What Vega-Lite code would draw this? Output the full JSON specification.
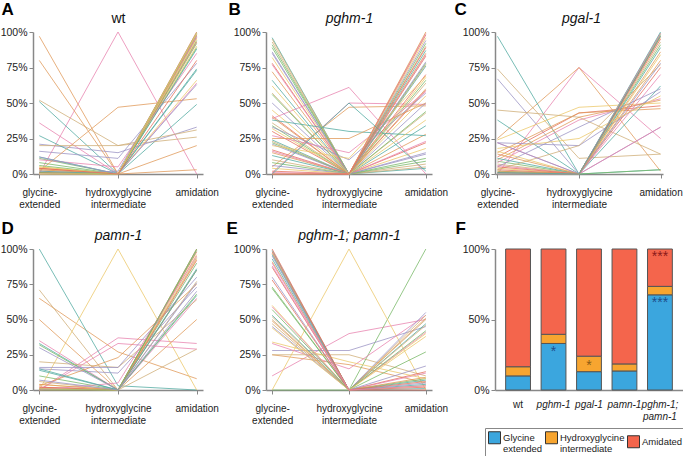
{
"$schema": "https://vega.github.io/schema/vega-lite/v6.json",
"padding": {"left": 0, "top": 0, "right": 0, "bottom": 0},
"background": "white",
"config": {
  "font": "Liberation Sans",
  "view": {"stroke": null},
  "axis": {"labelFontSize": 10.5, "labelColor": "#222", "domainColor": "#888", "domainWidth": 1.5, "tickColor": "#888", "tickSize": 4, "tickWidth": 1, "grid": false, "labelFont": "Liberation Sans", "labelPadding": 2},
  "axisX": {"labelFontSize": 10},
  "line": {"strokeWidth": 1, "opacity": 0.78}
},
"datasets": {
  "lines": [
    {"p":"A","id":"A01","g":0,"h":100,"a":0},{"p":"A","id":"A02","g":97,"h":0,"a":3},{"p":"A","id":"A03","g":51,"h":0,"a":49},{"p":"A","id":"A04","g":52,"h":20,"a":26},
    {"p":"A","id":"A05","g":11,"h":0,"a":89},{"p":"A","id":"A06","g":21,"h":15,"a":33},{"p":"A","id":"A07","g":4,"h":0,"a":90},{"p":"A","id":"A08","g":4,"h":0,"a":96},
    {"p":"A","id":"A09","g":36,"h":0,"a":64},{"p":"A","id":"A10","g":80,"h":0,"a":20},{"p":"A","id":"A11","g":27,"h":0,"a":73},{"p":"A","id":"A12","g":20,"h":20,"a":31},
    {"p":"A","id":"A13","g":8,"h":0,"a":92},{"p":"A","id":"A14","g":16,"h":11,"a":78},{"p":"A","id":"A15","g":5,"h":0,"a":66},{"p":"A","id":"A16","g":1,"h":0,"a":93},
    {"p":"A","id":"A17","g":10,"h":5,"a":85},{"p":"A","id":"A18","g":2,"h":47,"a":53},{"p":"A","id":"A19","g":12,"h":0,"a":88},{"p":"A","id":"A20","g":3,"h":0,"a":97},
    {"p":"A","id":"A21","g":6,"h":0,"a":94},{"p":"A","id":"A22","g":0,"h":2,"a":97},{"p":"A","id":"A23","g":5,"h":0,"a":95},{"p":"A","id":"A24","g":1,"h":0,"a":100},
    {"p":"A","id":"A25","g":2,"h":0,"a":98},{"p":"A","id":"A26","g":3,"h":0,"a":98},{"p":"A","id":"A27","g":2,"h":0,"a":74},{"p":"A","id":"A28","g":0,"h":0,"a":100},
    {"p":"A","id":"A29","g":1,"h":0,"a":99},{"p":"A","id":"A30","g":12,"h":0,"a":63},{"p":"A","id":"A31","g":0,"h":0,"a":99},{"p":"A","id":"A32","g":4,"h":0,"a":80},
    {"p":"B","id":"B01","g":1,"h":50,"a":49},{"p":"B","id":"B02","g":5,"h":47,"a":48},{"p":"B","id":"B03","g":96,"h":0,"a":4},{"p":"B","id":"B04","g":95,"h":0,"a":5},
    {"p":"B","id":"B05","g":89,"h":0,"a":11},{"p":"B","id":"B06","g":86,"h":0,"a":14},{"p":"B","id":"B07","g":82,"h":0,"a":18},{"p":"B","id":"B08","g":78,"h":0,"a":22},
    {"p":"B","id":"B09","g":77,"h":0,"a":23},{"p":"B","id":"B10","g":72,"h":0,"a":28},{"p":"B","id":"B11","g":66,"h":0,"a":34},{"p":"B","id":"B12","g":57,"h":0,"a":43},
    {"p":"B","id":"B13","g":56,"h":0,"a":44},{"p":"B","id":"B14","g":50,"h":0,"a":50},{"p":"B","id":"B15","g":45,"h":0,"a":55},{"p":"B","id":"B16","g":41,"h":0,"a":59},
    {"p":"B","id":"B17","g":39,"h":61,"a":0},{"p":"B","id":"B18","g":40,"h":0,"a":60},{"p":"B","id":"B19","g":38,"h":30,"a":27},{"p":"B","id":"B20","g":36,"h":0,"a":64},
    {"p":"B","id":"B21","g":34,"h":0,"a":66},{"p":"B","id":"B22","g":33,"h":10,"a":57},{"p":"B","id":"B23","g":32,"h":0,"a":68},{"p":"B","id":"B24","g":30,"h":0,"a":70},
    {"p":"B","id":"B25","g":27,"h":15,"a":58},{"p":"B","id":"B26","g":25,"h":25,"a":50},{"p":"B","id":"B27","g":24,"h":0,"a":76},{"p":"B","id":"B28","g":23,"h":0,"a":77},
    {"p":"B","id":"B29","g":22,"h":0,"a":78},{"p":"B","id":"B30","g":21,"h":0,"a":79},{"p":"B","id":"B31","g":20,"h":11,"a":69},{"p":"B","id":"B32","g":17,"h":0,"a":83},
    {"p":"B","id":"B33","g":16,"h":0,"a":84},{"p":"B","id":"B34","g":15,"h":0,"a":85},{"p":"B","id":"B35","g":13,"h":0,"a":87},{"p":"B","id":"B36","g":10,"h":0,"a":90},
    {"p":"B","id":"B37","g":8,"h":0,"a":92},{"p":"B","id":"B38","g":6,"h":0,"a":94},{"p":"B","id":"B39","g":4,"h":0,"a":96},{"p":"B","id":"B40","g":2,"h":0,"a":98},
    {"p":"B","id":"B41","g":1,"h":0,"a":99},{"p":"B","id":"B42","g":0,"h":0,"a":100},{"p":"B","id":"B43","g":0,"h":50,"a":2},{"p":"B","id":"B44","g":93,"h":0,"a":7},
    {"p":"B","id":"B45","g":91,"h":0,"a":9},{"p":"B","id":"B46","g":85,"h":0,"a":15},{"p":"B","id":"B47","g":62,"h":0,"a":38},{"p":"B","id":"B48","g":0,"h":0,"a":89},
    {"p":"C","id":"C01","g":0,"h":75,"a":25},{"p":"C","id":"C02","g":25,"h":75,"a":2},{"p":"C","id":"C03","g":97,"h":0,"a":3},{"p":"C","id":"C04","g":74,"h":11,"a":14},
    {"p":"C","id":"C05","g":9,"h":0,"a":91},{"p":"C","id":"C06","g":67,"h":0,"a":33},{"p":"C","id":"C07","g":24,"h":47,"a":50},{"p":"C","id":"C08","g":12,"h":43,"a":48},
    {"p":"C","id":"C09","g":8,"h":38,"a":53},{"p":"C","id":"C10","g":15,"h":43,"a":46},{"p":"C","id":"C11","g":38,"h":0,"a":62},{"p":"C","id":"C12","g":45,"h":40,"a":14},
    {"p":"C","id":"C13","g":2,"h":0,"a":98},{"p":"C","id":"C14","g":22,"h":20,"a":58},{"p":"C","id":"C15","g":4,"h":0,"a":96},{"p":"C","id":"C16","g":3,"h":0,"a":97},
    {"p":"C","id":"C17","g":6,"h":0,"a":70},{"p":"C","id":"C18","g":10,"h":40,"a":52},{"p":"C","id":"C19","g":11,"h":0,"a":89},{"p":"C","id":"C20","g":7,"h":0,"a":93},
    {"p":"C","id":"C21","g":1,"h":0,"a":99},{"p":"C","id":"C22","g":5,"h":33,"a":60},{"p":"C","id":"C23","g":16,"h":0,"a":84},{"p":"C","id":"C24","g":1,"h":0,"a":75},
    {"p":"C","id":"C25","g":22,"h":0,"a":33},{"p":"C","id":"C26","g":2,"h":0,"a":80},{"p":"C","id":"C27","g":0,"h":0,"a":100},{"p":"C","id":"C28","g":3,"h":20,"a":77},
    {"p":"C","id":"C29","g":0,"h":0,"a":3},{"p":"C","id":"C30","g":22,"h":0,"a":78},{"p":"C","id":"C31","g":18,"h":25,"a":55},{"p":"C","id":"C32","g":5,"h":0,"a":95},
    {"p":"C","id":"C33","g":0,"h":0,"a":99},{"p":"C","id":"C34","g":14,"h":0,"a":86},{"p":"C","id":"C35","g":1,"h":0,"a":97},
    {"p":"D","id":"D01","g":0,"h":37,"a":33},{"p":"D","id":"D02","g":65,"h":27,"a":8},{"p":"D","id":"D03","g":100,"h":3,"a":0},{"p":"D","id":"D04","g":71,"h":0,"a":29},
    {"p":"D","id":"D05","g":10,"h":0,"a":90},{"p":"D","id":"D06","g":15,"h":12,"a":73},{"p":"D","id":"D07","g":0,"h":100,"a":0},{"p":"D","id":"D08","g":2,"h":0,"a":98},
    {"p":"D","id":"D09","g":35,"h":0,"a":65},{"p":"D","id":"D10","g":50,"h":0,"a":50},{"p":"D","id":"D11","g":33,"h":0,"a":67},{"p":"D","id":"D12","g":20,"h":16,"a":64},
    {"p":"D","id":"D13","g":32,"h":0,"a":68},{"p":"D","id":"D14","g":30,"h":0,"a":70},{"p":"D","id":"D15","g":4,"h":0,"a":96},{"p":"D","id":"D16","g":0,"h":0,"a":100},
    {"p":"D","id":"D17","g":0,"h":33,"a":29},{"p":"D","id":"D18","g":3,"h":23,"a":75},{"p":"D","id":"D19","g":14,"h":0,"a":86},{"p":"D","id":"D20","g":6,"h":0,"a":94},
    {"p":"D","id":"D21","g":1,"h":0,"a":99},{"p":"D","id":"D22","g":16,"h":16,"a":80},{"p":"D","id":"D23","g":1,"h":0,"a":93},{"p":"D","id":"D24","g":2,"h":0,"a":92},
    {"p":"D","id":"D25","g":0,"h":5,"a":95},{"p":"D","id":"D26","g":4,"h":0,"a":85},{"p":"D","id":"D27","g":15,"h":0,"a":85},{"p":"D","id":"D28","g":1,"h":0,"a":77},
    {"p":"D","id":"D29","g":0,"h":0,"a":100},{"p":"D","id":"D30","g":7,"h":0,"a":76},
    {"p":"E","id":"E01","g":10,"h":40,"a":50},{"p":"E","id":"E02","g":25,"h":18,"a":5},{"p":"E","id":"E03","g":99,"h":0,"a":1},{"p":"E","id":"E04","g":25,"h":25,"a":10},
    {"p":"E","id":"E05","g":0,"h":0,"a":100},{"p":"E","id":"E06","g":28,"h":28,"a":45},{"p":"E","id":"E07","g":0,"h":100,"a":0},{"p":"E","id":"E08","g":98,"h":0,"a":2},
    {"p":"E","id":"E09","g":33,"h":15,"a":53},{"p":"E","id":"E10","g":97,"h":0,"a":3},{"p":"E","id":"E11","g":96,"h":0,"a":4},{"p":"E","id":"E12","g":50,"h":0,"a":50},
    {"p":"E","id":"E13","g":73,"h":0,"a":27},{"p":"E","id":"E14","g":95,"h":0,"a":5},{"p":"E","id":"E15","g":60,"h":0,"a":40},{"p":"E","id":"E16","g":87,"h":0,"a":13},
    {"p":"E","id":"E17","g":88,"h":0,"a":12},{"p":"E","id":"E18","g":49,"h":0,"a":51},{"p":"E","id":"E19","g":93,"h":0,"a":7},{"p":"E","id":"E20","g":47,"h":0,"a":53},
    {"p":"E","id":"E21","g":72,"h":0,"a":8},{"p":"E","id":"E22","g":45,"h":0,"a":55},{"p":"E","id":"E23","g":34,"h":20,"a":8},{"p":"E","id":"E24","g":100,"h":0,"a":0},
    {"p":"E","id":"E25","g":59,"h":0,"a":41},{"p":"E","id":"E26","g":91,"h":0,"a":9},{"p":"E","id":"E27","g":53,"h":0,"a":47},{"p":"E","id":"E28","g":52,"h":0,"a":46},
    {"p":"E","id":"E29","g":57,"h":0,"a":42},{"p":"E","id":"E30","g":80,"h":0,"a":17},{"p":"E","id":"E31","g":44,"h":0,"a":38},{"p":"E","id":"E32","g":78,"h":0,"a":6},
    {"p":"E","id":"E33","g":90,"h":0,"a":3}
  ],
  "bars": [
    {"geno":"wt","cat":"Glycine extended","k":1,"val":10},{"geno":"wt","cat":"Hydroxyglycine intermediate","k":2,"val":6.5},{"geno":"wt","cat":"Amidated","k":3,"val":83.5},
    {"geno":"pghm-1","cat":"Glycine extended","k":1,"val":33},{"geno":"pghm-1","cat":"Hydroxyglycine intermediate","k":2,"val":6.5},{"geno":"pghm-1","cat":"Amidated","k":3,"val":60.5},
    {"geno":"pgal-1","cat":"Glycine extended","k":1,"val":13},{"geno":"pgal-1","cat":"Hydroxyglycine intermediate","k":2,"val":11},{"geno":"pgal-1","cat":"Amidated","k":3,"val":76},
    {"geno":"pamn-1","cat":"Glycine extended","k":1,"val":13.5},{"geno":"pamn-1","cat":"Hydroxyglycine intermediate","k":2,"val":5},{"geno":"pamn-1","cat":"Amidated","k":3,"val":81.5},
    {"geno":"pghm-1; pamn-1","cat":"Glycine extended","k":1,"val":67.5},{"geno":"pghm-1; pamn-1","cat":"Hydroxyglycine intermediate","k":2,"val":6},{"geno":"pghm-1; pamn-1","cat":"Amidated","k":3,"val":26.5}
  ],
  "stars": [
    {"geno":"pghm-1","cat":"Glycine extended","pos":27,"s":"*"},
    {"geno":"pgal-1","cat":"Hydroxyglycine intermediate","pos":17,"s":"*"},
    {"geno":"pghm-1; pamn-1","cat":"Glycine extended","pos":62,"s":"***"},
    {"geno":"pghm-1; pamn-1","cat":"Amidated","pos":94,"s":"***"}
  ]
},
"bounds": "flush",
"align": "each",
"columns": 3,
"spacing": {"row": 75, "column": 63},
"resolve": {"scale": {"color": "independent"}},
"concat": [
  {"width":170,"height":142,"data":{"name":"lines"},
   "transform":[{"filter":"datum.p==='A'"},{"fold":["g","h","a"],"as":["stage","pct"]}],
   "mark":{"type":"line"},
   "encoding":{
    "x":{"field":"stage","type":"nominal","scale":{"type":"point","domain":["g","h","a"],"padding":0.08},"axis":{"title":"wt","titleX":85,"titleY":-152,"titleFontSize":14,"titleFontWeight":"normal","titleBaseline":"alphabetic","titleAlign":"center","titleColor":"#111","labelAngle":0,"labelPadding":9,"labelLineHeight":12,"labelExpr":"datum.value==='g' ? ['glycine-','extended'] : datum.value==='h' ? ['hydroxyglycine','intermediate'] : 'amidation'"}},
    "y":{"field":"pct","type":"quantitative","scale":{"domain":[0,100]},"axis":{"values":[0,25,50,75,100],"labelExpr":"datum.value+'%'","title":"A","titleAngle":0,"titleAlign":"left","titleBaseline":"top","titleX":-32,"titleY":-31,"titleFontSize":17,"titleFontWeight":"bold","titleColor":"#000"}},
    "color":{"field":"id","type":"nominal","scale":{"range":["#e884b0","#e09a5a","#52aaa2","#cfae78","#78b868","#9b94c4","#ecc86a","#e4705c"]},"legend":null},
    "order":{"value":null}
   }},
  {"width":166,"height":142,"data":{"name":"lines"},
   "transform":[{"filter":"datum.p==='B'"},{"fold":["g","h","a"],"as":["stage","pct"]}],
   "mark":{"type":"line"},
   "encoding":{
    "x":{"field":"stage","type":"nominal","scale":{"type":"point","domain":["g","h","a"],"padding":0.08},"axis":{"title":"pghm-1","titleFontStyle":"italic","titleX":83,"titleY":-152,"titleFontSize":14,"titleFontWeight":"normal","titleBaseline":"alphabetic","titleAlign":"center","titleColor":"#111","labelAngle":0,"labelPadding":9,"labelLineHeight":12,"labelExpr":"datum.value==='g' ? ['glycine-','extended'] : datum.value==='h' ? ['hydroxyglycine','intermediate'] : 'amidation'"}},
    "y":{"field":"pct","type":"quantitative","scale":{"domain":[0,100]},"axis":{"values":[0,25,50,75,100],"labelExpr":"datum.value+'%'","title":"B","titleAngle":0,"titleAlign":"left","titleBaseline":"top","titleX":-38,"titleY":-31,"titleFontSize":17,"titleFontWeight":"bold","titleColor":"#000"}},
    "color":{"field":"id","type":"nominal","scale":{"range":["#e884b0","#e09a5a","#52aaa2","#cfae78","#78b868","#9b94c4","#ecc86a","#e4705c"]},"legend":null},
    "order":{"value":null}
   }},
  {"width":168,"height":142,"data":{"name":"lines"},
   "transform":[{"filter":"datum.p==='C'"},{"fold":["g","h","a"],"as":["stage","pct"]}],
   "mark":{"type":"line"},
   "encoding":{
    "x":{"field":"stage","type":"nominal","scale":{"type":"point","domain":["g","h","a"],"padding":0.03},"axis":{"title":"pgal-1","titleFontStyle":"italic","titleX":86,"titleY":-152,"titleFontSize":14,"titleFontWeight":"normal","titleBaseline":"alphabetic","titleAlign":"center","titleColor":"#111","labelAngle":0,"labelPadding":9,"labelLineHeight":12,"labelExpr":"datum.value==='g' ? ['glycine-','extended'] : datum.value==='h' ? ['hydroxyglycine','intermediate'] : 'amidation'"}},
    "y":{"field":"pct","type":"quantitative","scale":{"domain":[0,100]},"axis":{"values":[0,25,50,75,100],"labelExpr":"datum.value+'%'","title":"C","titleAngle":0,"titleAlign":"left","titleBaseline":"top","titleX":-41,"titleY":-31,"titleFontSize":17,"titleFontWeight":"bold","titleColor":"#000"}},
    "color":{"field":"id","type":"nominal","scale":{"range":["#e884b0","#e09a5a","#52aaa2","#cfae78","#78b868","#9b94c4","#ecc86a","#e4705c"]},"legend":null},
    "order":{"value":null}
   }},
  {"width":170,"height":141,"data":{"name":"lines"},
   "transform":[{"filter":"datum.p==='D'"},{"fold":["g","h","a"],"as":["stage","pct"]}],
   "mark":{"type":"line"},
   "encoding":{
    "x":{"field":"stage","type":"nominal","scale":{"type":"point","domain":["g","h","a"],"padding":0.08},"axis":{"title":"pamn-1","titleFontStyle":"italic","titleX":85,"titleY":-151,"titleFontSize":14,"titleFontWeight":"normal","titleBaseline":"alphabetic","titleAlign":"center","titleColor":"#111","labelAngle":0,"labelPadding":9,"labelLineHeight":12,"labelExpr":"datum.value==='g' ? ['glycine-','extended'] : datum.value==='h' ? ['hydroxyglycine','intermediate'] : 'amidation'"}},
    "y":{"field":"pct","type":"quantitative","scale":{"domain":[0,100]},"axis":{"values":[0,25,50,75,100],"labelExpr":"datum.value+'%'","title":"D","titleAngle":0,"titleAlign":"left","titleBaseline":"top","titleX":-32,"titleY":-29,"titleFontSize":17,"titleFontWeight":"bold","titleColor":"#000"}},
    "color":{"field":"id","type":"nominal","scale":{"range":["#e884b0","#e09a5a","#52aaa2","#cfae78","#78b868","#9b94c4","#ecc86a","#e4705c"]},"legend":null},
    "order":{"value":null}
   }},
  {"width":166,"height":141,"data":{"name":"lines"},
   "transform":[{"filter":"datum.p==='E'"},{"fold":["g","h","a"],"as":["stage","pct"]}],
   "mark":{"type":"line"},
   "encoding":{
    "x":{"field":"stage","type":"nominal","scale":{"type":"point","domain":["g","h","a"],"padding":0.08},"axis":{"title":"pghm-1; pamn-1","titleFontStyle":"italic","titleX":83,"titleY":-151,"titleFontSize":14,"titleFontWeight":"normal","titleBaseline":"alphabetic","titleAlign":"center","titleColor":"#111","labelAngle":0,"labelPadding":9,"labelLineHeight":12,"labelExpr":"datum.value==='g' ? ['glycine-','extended'] : datum.value==='h' ? ['hydroxyglycine','intermediate'] : 'amidation'"}},
    "y":{"field":"pct","type":"quantitative","scale":{"domain":[0,100]},"axis":{"values":[0,25,50,75,100],"labelExpr":"datum.value+'%'","title":"E","titleAngle":0,"titleAlign":"left","titleBaseline":"top","titleX":-40,"titleY":-29,"titleFontSize":17,"titleFontWeight":"bold","titleColor":"#000"}},
    "color":{"field":"id","type":"nominal","scale":{"range":["#e884b0","#e09a5a","#52aaa2","#cfae78","#78b868","#9b94c4","#ecc86a","#e4705c"]},"legend":null},
    "order":{"value":null}
   }},
  {"width":188,"height":141,
   "layer":[
    {"data":{"name":"bars"},"mark":{"type":"bar","stroke":"#555","strokeWidth":1},
     "encoding":{
      "x":{"field":"geno","type":"nominal","sort":["wt","pghm-1","pgal-1","pamn-1","pghm-1; pamn-1"],"scale":{"paddingInner":0.3,"paddingOuter":0.3},"axis":{"title":null,"labelAngle":0,"ticks":false,"labelPadding":9,"labelLineHeight":12,"labelFontSize":10,"labelFontStyle":{"condition":{"test":"datum.value==='wt'","value":"normal"},"value":"italic"},"labelExpr":"datum.value==='pghm-1; pamn-1' ? ['pghm-1;','pamn-1'] : datum.value"}},
      "y":{"field":"val","type":"quantitative","stack":"zero","scale":{"domain":[0,100]},"axis":{"values":[0,25,50,75,100],"labelExpr":"datum.value+'%'","title":"F","titleAngle":0,"titleAlign":"left","titleBaseline":"top","titleX":-40,"titleY":-29,"titleFontSize":17,"titleFontWeight":"bold","titleColor":"#000"}},
      "order":{"field":"k","type":"quantitative"},
      "color":{"field":"cat","type":"nominal","sort":["Glycine extended","Hydroxyglycine intermediate","Amidated"],"scale":{"domain":["Glycine extended","Hydroxyglycine intermediate","Amidated"],"range":["#3ba6de","#f7a530","#f4654c"]},
        "legend":{"title":null,"orient":"none","legendX":-10,"legendY":179,"direction":"horizontal","strokeColor":"#888","padding":3,"symbolType":"square","symbolSize":144,"symbolStrokeColor":"#333","symbolStrokeWidth":1,"symbolOpacity":1,"labelFontSize":9.5,"labelOffset":2,"labelColor":"#222","columnPadding":0,"labelLimit":0,"labelExpr":"datum.label==='Glycine extended' ? ['Glycine','extended'] : datum.label==='Hydroxyglycine intermediate' ? ['Hydroxyglycine','intermediate'] : datum.label"}}
     }},
    {"data":{"name":"stars"},"mark":{"type":"text","fontSize":14,"baseline":"middle"},
     "encoding":{
      "x":{"field":"geno","type":"nominal","sort":["wt","pghm-1","pgal-1","pamn-1","pghm-1; pamn-1"]},
      "y":{"field":"pos","type":"quantitative"},
      "text":{"field":"s"},
      "color":{"field":"cat","type":"nominal","scale":{"domain":["Glycine extended","Hydroxyglycine intermediate","Amidated"],"range":["#1f4e8c","#8c5a14","#8b1a1a"]},"legend":null}
     }}
   ],
   "resolve":{"scale":{"color":"independent"}}
  }
]
}
